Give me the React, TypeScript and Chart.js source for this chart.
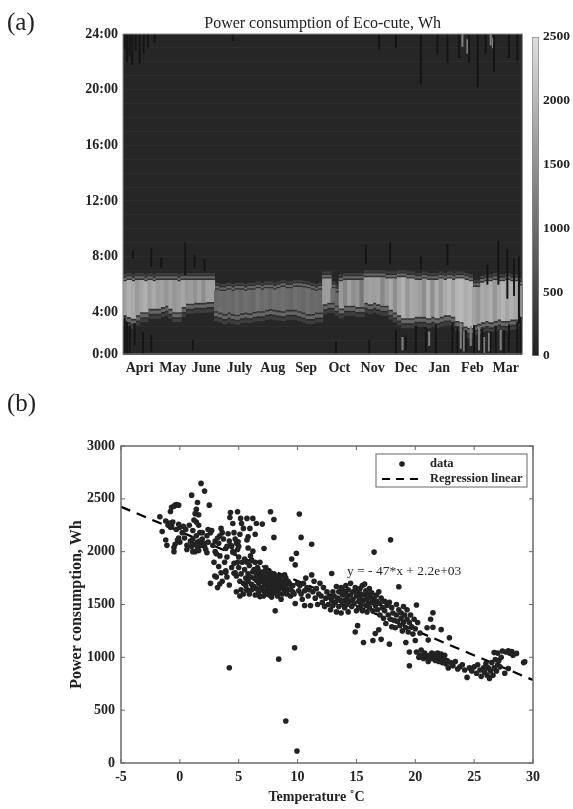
import React, { useEffect, useRef } from "react";
import { Chart, registerables } from "chart.js";

Chart.register(...registerables);

const SERIF = '"Liberation Serif", "Times New Roman", serif';

// Panel (a)
const months = ["Apri", "May", "June", "July", "Aug", "Sep", "Oct", "Nov", "Dec", "Jan", "Feb", "Mar"];
const monthCentres = [0.5, 1.5, 2.5, 3.5, 4.5, 5.5, 6.5, 7.5, 8.5, 9.5, 10.5, 11.5];
const hourTicks = [1, 4, 8, 12, 16, 20, 24];
const hourLabels = ["0:00", "4:00", "8:00", "12:00", "16:00", "20:00", "24:00"];
const colourTicks = [0, 500, 1000, 1500, 2000, 2500];

const bandHigh = [
  6.2, 6.3, 6.2, 6.3, 6.3, 6.2, 6.3, 6.2,
  6.3, 6.3, 6.3, 6.3, 6.3, 6.2, 6.3, 6.3,
  6.3, 6.3, 6.3, 6.3, 6.3, 6.3, 5.6, 5.5,
  5.5, 5.6, 5.5, 5.6, 5.6, 5.5, 5.6, 5.6,
  5.7, 5.6, 5.7, 5.7, 5.6, 5.7, 5.8, 5.7,
  5.7, 5.8, 5.8, 5.75, 5.7, 5.6, 5.5, 5.6,
  6.4, 6.4, 5.7, 5.4, 6.2, 6.3, 6.3, 6.3,
  6.3, 6.3, 6.5, 6.5, 6.5, 6.5, 6.5, 6.4,
  6.4, 6.4, 6.5, 6.5, 6.4, 6.4, 6.3, 6.3,
  6.4, 6.3, 6.3, 6.3, 6.4, 6.3, 6.4, 6.3,
  6.4, 6.4, 6.3, 6.2, 5.8, 5.8, 6.1, 6.2,
  6.2, 6.3, 6.2, 6.2, 6.3, 6.2, 6.2, 5.9,
];
const bandLow = [
  3.8, 3.68, 3.56, 3.8, 4.03, 4.03, 4.27, 4.27,
  4.27, 4.4, 4.5, 4.27, 4.03, 4.03, 4.4, 4.64,
  4.64, 4.7, 4.7, 4.7, 4.76, 4.76, 4.1, 4.0,
  3.9, 4.0, 3.9, 3.85, 3.95, 4.0, 3.95, 4.05,
  4.1, 4.1, 4.2, 4.25, 4.2, 4.15, 4.1, 4.2,
  4.2, 4.2, 4.1, 4.0, 3.9, 3.9, 4.0, 4.0,
  4.6, 4.7, 4.7, 4.5, 4.3, 4.5, 4.5, 4.5,
  4.4, 4.4, 4.7, 4.6, 4.7, 4.6, 4.5, 4.5,
  4.2, 4.0, 3.8, 3.6, 3.6, 3.6, 3.7, 3.7,
  3.7, 3.6, 3.7, 3.6, 3.7, 3.8, 3.8, 3.7,
  3.4, 3.3, 3.0, 2.9, 3.1, 3.2, 3.3, 3.4,
  3.3, 3.4, 3.5, 3.4, 3.4, 3.5, 3.5, 3.7,
];
const bandLevel = [
  1700, 1900, 1800, 1600, 1750, 1900, 1650, 1800,
  1650, 1700, 1550, 1700, 1550, 1650, 1750, 1600,
  1650, 1500, 1700, 1450, 1700, 1700, 950, 1000,
  950, 1000, 950, 1050, 950, 1050, 1000, 950,
  1100, 1000, 1050, 950, 1050, 1000, 1050, 1000,
  950, 1050, 1000, 950, 1050, 950, 1000, 950,
  1600, 1650, 1050, 950, 1600, 1350, 1700, 1450,
  1550, 1150, 1650, 1700, 1650, 1700, 1350, 1600,
  1800, 1450, 1750, 1900, 1550, 1800, 1750, 1650,
  1450, 1900, 1450, 1850, 1550, 1800, 1950, 1750,
  1950, 2000, 1850, 1950, 1700, 1550, 1800, 1750,
  1850, 1550, 1800, 1950, 1750, 1900, 1750, 1450,
];

const darkStreakMonth = [
  0.05, 0.12, 0.2, 0.28, 0.38, 0.5, 0.62, 0.75, 0.95, 3.3, 7.7, 8.2, 8.95, 9.45, 9.75, 10.1, 10.4, 10.66, 10.9, 11.15, 11.6, 11.85,
  0.3, 0.85, 1.15, 1.87, 2.15, 2.45, 7.3, 8.03, 8.95, 9.75, 11.28, 11.55, 11.9, 11.75, 10.95,
  0.05, 0.12, 0.2, 0.35, 0.6, 0.85, 2.1, 6.4, 7.4, 8.2, 8.5, 8.8, 9.1, 9.4, 9.9, 10.05, 10.3, 10.55, 10.8, 11.05, 11.2, 11.45, 11.6, 11.85, 11.95,
];
const darkStreakLow = [
  22.9, 22.0, 22.4, 21.8, 22.8, 21.9, 22.6, 23.0, 23.4, 23.5, 22.9, 23.0, 20.4, 22.6, 22.0, 22.3, 22.0, 20.2, 22.6, 21.3, 22.3, 22.1,
  7.9, 7.3, 7.2, 6.7, 7.2, 7.0, 7.5, 7.5, 7.1, 7.4, 6.0, 5.0, 3.2, 5.2, 6.0,
  1, 1, 1, 1.6, 1, 1.2, 1.3, 1, 1, 1, 1.3, 1, 1.2, 1, 1, 1, 1.2, 1, 1, 1.1, 1, 1, 1.2, 1, 1,
];
const darkStreakHigh = [
  24, 24, 24, 24, 24, 24, 24, 24, 24, 24, 24, 24, 24, 24, 24, 24, 24, 24, 24, 24, 24, 24,
  8.4, 8.6, 7.9, 9.0, 8.1, 7.8, 8.8, 9.0, 8.0, 8.9, 9.1, 8.5, 8.0, 7.8, 7.4,
  3.6, 3.3, 3.0, 3.2, 2.6, 2.4, 2.0, 1.9, 2.0, 2.7, 2.3, 3.0, 2.9, 3.1, 3.2, 2.9, 2.7, 3.0, 2.8, 2.6, 3.0, 2.7, 3.1, 3.3, 3.6,
];

const paleStreakMonth = [10.15, 10.25, 10.45, 10.7, 10.85, 11.0, 11.35, 9.2, 8.4, 10.2, 10.35, 11.05, 11.12];
const paleStreakLow = [1.4, 1.2, 1.6, 1.3, 1.1, 1.2, 1.3, 1.6, 1.3, 23.1, 22.6, 23.2, 23.0];
const paleStreakHigh = [3.2, 2.6, 3.0, 2.9, 2.2, 2.5, 2.7, 2.6, 2.2, 24, 23.6, 24, 23.7];

// Panel (b)
const coldDays = [
  [-1.7, 2330], [-1.5, 2190], [-1.2, 2290], [-1.2, 2110], [-1.1, 2060], [-1.0, 2250], [-0.9, 2270], [-0.8, 2230], [-0.7, 2240], [-0.6, 2280],
  [-0.5, 2430], [-0.8, 2380], [-0.7, 2420], [-0.4, 2440], [-0.3, 2445], [-0.1, 2440], [-0.5, 2040], [-0.5, 2000], [-0.4, 2070], [-0.2, 2110],
  [-0.1, 2130], [0, 2090], [-0.1, 2260], [0, 2230], [-0.3, 2210], [0.2, 2180], [0.3, 2240], [0.5, 2210], [0.6, 2060], [0.6, 2020],
  [1.0, 2535], [1.1, 2200], [1.2, 2300], [1.3, 2360], [1.4, 2400], [1.5, 2465], [1.6, 2250], [1.7, 2180], [1.8, 2646], [1.9, 2180],
  [0.9, 2100], [1.0, 2050], [1.1, 2120], [1.2, 2070], [1.3, 2000], [1.4, 2150], [1.5, 2090], [1.5, 2040], [1.6, 2010], [1.7, 2100],
  [1.8, 2060], [1.9, 2120], [2.0, 2080], [2.1, 2573], [2.1, 2050], [2.2, 2020], [2.3, 1990], [2.4, 2090], [2.5, 2440], [2.3, 2150],
  [2.6, 2180], [1.1, 2000], [1.4, 2280], [1.6, 2350],
];
const coolDays = [
  [2.7, 2200], [2.8, 2060], [3.0, 2000], [3.1, 1980], [3.2, 2130], [3.3, 2080], [3.4, 1960], [3.5, 2220], [3.6, 2180], [3.7, 2120],
  [3.3, 1860], [3.5, 1800], [3.8, 1900], [3.9, 2030], [4.0, 1950], [4.1, 2170], [4.2, 2100], [4.3, 2060], [4.4, 2050], [4.5, 2000],
  [4.6, 1990], [4.7, 2120], [4.8, 2080], [4.9, 2020], [3.9, 1820], [4.0, 1760], [4.2, 902], [4.4, 1850], [4.6, 1890], [4.7, 1800],
  [4.8, 1770], [4.9, 1900], [5.0, 1950], [2.9, 1900], [3.6, 1720], [3.2, 1660], [3.1, 1760], [2.6, 1700], [2.97, 1770], [3.4, 1694],
  [3.9, 1806], [4.2, 1685], [4.6, 1795], [4.8, 1620], [5.1, 1580], [5.7, 1637], [4.3, 2371], [4.9, 2378], [4.25, 2324], [4.5, 2267],
  [5.16, 2315], [5.24, 2267], [5.7, 2315], [6.2, 2315], [6.5, 2267], [7.0, 2261], [5.4, 2220], [5.95, 2220], [5.8, 2140], [6.4, 2165],
  [5.1, 2165], [4.95, 2094], [5.7, 2110], [5.8, 2035], [7.15, 2030], [7.7, 2378], [7.99, 2305], [7.99, 2135],
];
const mildDays = [
  [5.0, 1850], [5.1, 1720], [5.2, 1790], [5.2, 1640], [5.3, 1900], [5.4, 1700], [5.4, 1600], [5.5, 1830], [5.6, 1750], [5.6, 1680],
  [5.7, 1640], [5.8, 1790], [5.8, 1720], [5.9, 1870], [5.9, 1600], [6.0, 1960], [6.0, 1760], [6.1, 1690], [6.1, 1640], [6.2, 2005],
  [6.2, 1810], [6.3, 1750], [6.3, 1670], [6.4, 1900], [6.4, 1590], [6.5, 1730], [6.5, 1650], [6.6, 1850], [6.6, 1780], [6.7, 1700],
  [6.7, 1610], [6.8, 1575], [6.8, 1740], [6.9, 1660], [6.9, 1800], [7.0, 1720], [7.0, 1640], [7.1, 1580], [7.1, 1770], [7.2, 1690],
  [7.2, 1620], [7.3, 1850], [7.3, 1730], [7.4, 1660], [7.4, 1600], [7.5, 1700], [7.5, 1640], [7.6, 1750], [7.6, 1590], [7.7, 1680],
  [7.7, 1620], [7.8, 1720], [7.8, 1570], [7.9, 1660], [8.0, 1610], [8.0, 1700], [8.1, 1640], [8.1, 1440], [8.2, 1680], [8.3, 1580],
  [8.3, 1610], [8.4, 1720], [8.4, 1640], [8.5, 1670], [8.4, 983], [8.6, 1550], [8.7, 1600], [8.7, 1700], [8.8, 1650], [8.9, 1620],
  [8.9, 1780], [9.0, 397], [9.0, 1680], [9.1, 1600], [9.2, 1640], [9.3, 1700], [9.4, 1580], [9.4, 1650], [9.5, 1930], [9.6, 1620],
  [9.6, 1680], [9.7, 1600], [9.75, 1090], [9.8, 1875], [9.8, 1510], [9.9, 1985], [9.95, 113],
];
const mildUpperDays = [
  [6.3, 1830], [6.5, 1790], [6.7, 1820], [6.9, 1770], [7.1, 1810], [7.2, 1760], [7.4, 1820], [7.5, 1780], [7.7, 1800], [7.8, 1760],
  [8.0, 1790], [8.1, 1740], [8.3, 1770], [8.5, 1730], [8.6, 1770], [8.8, 1720], [9.0, 1750], [9.2, 1720], [5.5, 1930], [5.7, 1900],
  [6.1, 1920], [6.8, 1900], [3.0, 2100], [3.4, 2150], [2.4, 2210], [0.8, 2250], [0.4, 2130], [4.0, 2050], [4.6, 2180], [5.0, 2050],
];
const springDays = [
  [10.0, 1700], [10.15, 2357], [10.3, 2135], [10.1, 1630], [10.2, 1680], [10.3, 1600], [10.4, 1550], [10.5, 1700], [10.6, 1490], [10.6, 1630],
  [10.7, 1750], [10.8, 1660], [10.9, 1580], [11.0, 1640], [11.1, 1490], [11.2, 2070], [11.2, 1780], [11.3, 1620], [11.4, 1720], [11.5, 1560],
  [11.6, 1650], [11.7, 1500], [11.8, 1600], [11.9, 1700], [12.0, 1580], [12.1, 1520], [12.2, 1660], [12.3, 1480], [12.4, 1560], [12.5, 1620],
  [12.6, 1500], [12.7, 1570], [12.8, 1450], [12.9, 1794], [12.9, 1540], [13.0, 1620], [13.0, 1490], [13.1, 1580], [13.2, 1520], [13.3, 1430],
  [13.3, 1670], [13.4, 1560], [13.5, 1480], [13.5, 1620], [13.6, 1540], [13.7, 1660], [13.7, 1420], [13.8, 1500], [13.8, 1590], [13.9, 1630],
  [14.0, 1540], [14.0, 1470], [14.1, 1600], [14.1, 1680], [14.2, 1560], [14.2, 1500], [14.3, 1640], [14.3, 1430], [14.4, 1530], [14.5, 1700],
  [14.5, 1590], [14.6, 1480], [14.7, 1620], [14.7, 1550], [14.8, 1510], [14.9, 1660], [14.9, 1240], [15.0, 1580], [15.0, 1440], [15.1, 1300],
  [15.1, 1620], [15.2, 1530], [15.2, 1470],
];
const warmDays = [
  [15.3, 1650], [15.3, 1560], [15.4, 1600], [15.4, 1500], [15.5, 1680], [15.5, 1440], [15.6, 1140], [15.6, 1540], [15.7, 1693], [15.7, 1590],
  [15.8, 1490], [15.8, 1630], [15.9, 1550], [15.9, 1430], [16.0, 1600], [16.0, 1510], [16.1, 1650], [16.1, 1470], [16.2, 1570], [16.3, 1520],
  [16.3, 1610], [16.4, 1160], [16.4, 1440], [16.5, 1996], [16.5, 1560], [16.6, 1225], [16.6, 1490], [16.7, 1590], [16.7, 1530], [16.8, 1450],
  [16.9, 1620], [16.9, 1260], [17.0, 1510], [17.0, 1400], [17.1, 1170], [17.1, 1560], [17.2, 1470], [17.3, 1370], [17.4, 1530], [17.4, 1440],
  [17.5, 1320], [17.6, 1490], [17.7, 1400], [17.8, 1125], [17.8, 1520], [17.9, 2112], [17.9, 1360], [18.0, 1470], [18.0, 1290], [18.1, 1420],
  [18.2, 1350], [18.3, 1280], [18.4, 1500], [18.4, 1400], [18.5, 1340], [18.6, 1668], [18.6, 1450], [18.7, 1300], [18.8, 1420], [18.8, 1370],
  [18.9, 1250], [19.0, 1480], [19.0, 1330], [19.1, 1400], [19.2, 1140], [19.2, 1280], [19.3, 1450], [19.3, 1360], [19.4, 1240], [19.5, 920],
  [19.5, 1050], [19.5, 1330], [19.6, 1400], [19.7, 1290], [19.8, 1220], [19.9, 1360], [20.0, 1160], [20.0, 1270], [20.1, 1495], [20.1, 1050],
  [20.2, 1330], [20.3, 1000], [20.4, 1230],
];
const hotDays = [
  [20.4, 1020], [20.5, 1070], [20.6, 1000], [20.7, 990], [20.8, 1040], [20.9, 1010], [21.0, 1000], [21.0, 1280], [21.1, 1163], [21.1, 960],
  [21.2, 1020], [21.3, 1360], [21.3, 990], [21.4, 1040], [21.5, 1422], [21.5, 1285], [21.5, 990], [21.6, 1030], [21.7, 970], [21.8, 1010],
  [21.9, 1040], [22.0, 960], [22.1, 1000], [22.2, 1262], [22.2, 1030], [22.3, 950], [22.4, 990], [22.5, 1020], [22.6, 940], [22.7, 970],
  [22.9, 1185], [22.8, 900], [23.0, 950], [23.2, 920], [23.4, 960], [23.6, 890], [23.8, 910], [24.0, 930], [24.2, 880], [24.4, 810],
  [24.6, 900], [24.8, 870], [25.0, 910], [25.2, 850], [25.3, 930], [25.5, 880], [25.6, 820], [25.8, 900], [25.9, 860], [26.0, 940],
  [26.1, 830], [26.2, 900], [26.3, 800], [26.4, 870], [26.5, 950], [26.6, 830], [26.7, 1045], [26.7, 900], [26.8, 980], [26.9, 870],
  [27.0, 1040], [27.0, 930], [27.1, 970], [27.2, 910], [27.3, 1000], [27.4, 1060], [27.6, 850], [27.9, 895], [27.9, 1063], [28.2, 1055],
  [28.3, 1020], [28.6, 1037], [28.0, 1040], [27.7, 1050], [29.3, 958], [29.2, 950],
];
const regressionTemps = [-5, 30];
const regressionPower = [2425, 785];
const regressionNote = "y = - 47*x + 2.2e+03";

const grey = (wh: number) => {
  const g = Math.round(32 + wh * 0.076);
  return `rgb(${g},${g},${g})`;
};
const colX = (i: number) => (i + 0.5) / 8;

const bandLayer = (label: string, down: number, up: number, color: any) => ({
  label,
  data: bandHigh.map((hi, i) => ({ x: colX(i), y: [bandLow[i] - down, hi + up] })),
  backgroundColor: color,
  barThickness: 4.6,
  grouped: false,
});
const streakLayer = (label: string, xs: number[], lows: number[], highs: number[], color: string, w: number) => ({
  label,
  data: xs.map((x, i) => ({ x, y: [lows[i], highs[i]] })),
  backgroundColor: color,
  barThickness: w,
  grouped: false,
});

const plotFill = {
  id: "plotFill",
  beforeDatasetsDraw(chart: any) {
    const { ctx, chartArea: a } = chart;
    ctx.save();
    ctx.fillStyle = "#262626";
    ctx.globalCompositeOperation = "destination-over";
    ctx.fillRect(a.left, a.top, a.width, a.height);
    ctx.restore();
  },
  afterDraw(chart: any) {
    const { ctx, chartArea: a } = chart;
    ctx.save();
    ctx.strokeStyle = "#8a8a8a";
    ctx.lineWidth = 1;
    ctx.strokeRect(a.left, a.top, a.width, a.height);
    ctx.restore();
  },
};

const frame = {
  id: "frame",
  afterDatasetsDraw(chart: any) {
    const { ctx, chartArea: a, scales } = chart;
    ctx.save();
    ctx.strokeStyle = "#6a6a6a";
    ctx.lineWidth = 1.5;
    ctx.strokeRect(a.left, a.top, a.width, a.height);
    ctx.lineWidth = 1;
    ctx.beginPath();
    scales.x.ticks.forEach((t: any) => {
      const px = scales.x.getPixelForValue(t.value);
      ctx.moveTo(px, a.bottom);
      ctx.lineTo(px, a.bottom - 4);
      ctx.moveTo(px, a.top);
      ctx.lineTo(px, a.top + 4);
    });
    scales.y.ticks.forEach((t: any) => {
      const py = scales.y.getPixelForValue(t.value);
      ctx.moveTo(a.left, py);
      ctx.lineTo(a.left + 4, py);
      ctx.moveTo(a.right, py);
      ctx.lineTo(a.right - 4, py);
    });
    ctx.stroke();
    ctx.restore();
  },
  afterDraw(chart: any) {
    const { ctx, chartArea: a, scales } = chart;
    ctx.save();
    ctx.fillStyle = "#2a2a2a";
    ctx.font = `13.5px ${SERIF}`;
    ctx.textBaseline = "middle";
    ctx.textAlign = "left";
    ctx.fillText(regressionNote, scales.x.getPixelForValue(14.2), scales.y.getPixelForValue(1810));
    const lx = a.right - 157;
    const ly = a.top + 8;
    const lw = 151;
    const lh = 33;
    ctx.fillStyle = "#fff";
    ctx.fillRect(lx, ly, lw, lh);
    ctx.strokeStyle = "#666";
    ctx.lineWidth = 1;
    ctx.strokeRect(lx, ly, lw, lh);
    ctx.fillStyle = "#222";
    ctx.beginPath();
    ctx.arc(lx + 26, ly + 10, 2.8, 0, Math.PI * 2);
    ctx.fill();
    ctx.strokeStyle = "#000";
    ctx.lineWidth = 2.2;
    ctx.setLineDash([8, 6]);
    ctx.beginPath();
    ctx.moveTo(lx + 6, ly + 25);
    ctx.lineTo(lx + 46, ly + 25);
    ctx.stroke();
    ctx.setLineDash([]);
    ctx.fillStyle = "#222";
    ctx.font = `bold 12.5px ${SERIF}`;
    ctx.fillText("data", lx + 54, ly + 10);
    ctx.fillText("Regression linear", lx + 54, ly + 25);
    ctx.restore();
  },
};

export default function App() {
  const heatRef = useRef<HTMLCanvasElement>(null);
  const barRef = useRef<HTMLCanvasElement>(null);
  const scatterRef = useRef<HTMLCanvasElement>(null);

  useEffect(() => {
    const heat = new Chart(heatRef.current as any, {
      type: "bar",
      data: {
        datasets: [
          streakLayer("dark streaks", darkStreakMonth, darkStreakLow, darkStreakHigh, "#151515", 1.3),
          streakLayer("pale streaks", paleStreakMonth, paleStreakLow, paleStreakHigh, "#7e7e7e", 1.4),
          bandLayer("band", 0, 0, (c: any) => grey(bandLevel[c.dataIndex] ?? 0)),
          bandLayer("contour 1", 0.12, 0.1, "#333333"),
          bandLayer("shoulder", 0.36, 0.26, "#666666"),
          bandLayer("contour 2", 0.48, 0.34, "#2c2c2c"),
          bandLayer("halo", 0.72, 0.5, "#3e3e3e"),
        ] as any,
      },
      options: {
        animation: false,
        responsive: false,
        events: [],
        layout: { padding: { left: 73, right: 2, top: 0, bottom: 0 } },
        plugins: {
          legend: { display: false },
          tooltip: { enabled: false },
          title: {
            display: true,
            text: "Power consumption of Eco-cute, Wh",
            fullSize: false,
            color: "#222",
            font: { family: SERIF, size: 16, weight: "normal", lineHeight: 1.2 },
            padding: { top: 14.4, bottom: 0.4 },
          },
        },
        scales: {
          x: {
            type: "linear",
            min: 0,
            max: 12,
            offset: false,
            grid: { display: false, drawTicks: false },
            border: { display: false },
            afterBuildTicks: (s: any) => {
              s.ticks = monthCentres.map((value) => ({ value }));
            },
            afterFit: (s: any) => {
              s.height = 31;
            },
            ticks: {
              autoSkip: false,
              maxRotation: 0,
              padding: 6,
              color: "#222",
              font: { family: SERIF, size: 14, weight: "bold" },
              callback: (_v: any, i: number) => months[i],
            },
          },
          y: {
            type: "linear",
            min: 1,
            max: 24,
            grid: { display: false, drawTicks: false },
            border: { display: false },
            afterBuildTicks: (s: any) => {
              s.ticks = hourTicks.map((value) => ({ value }));
            },
            afterFit: (s: any) => {
              s.width = 50;
            },
            ticks: {
              autoSkip: false,
              padding: 5,
              color: "#222",
              font: { family: SERIF, size: 14, weight: "bold" },
              callback: (_v: any, i: number) => hourLabels[i],
            },
          },
          hours: {
            type: "linear",
            position: "left",
            min: 1,
            max: 24,
            border: { display: false },
            grid: { color: "#2d2d2d", lineWidth: 1, drawTicks: false },
            ticks: { stepSize: 1, display: false },
            afterFit: (s: any) => {
              s.width = 0;
            },
          },
        },
      } as any,
      plugins: [plotFill],
    });

    const bar = new Chart(barRef.current as any, {
      type: "bar",
      data: {
        labels: ["Wh"],
        datasets: [
          {
            data: [[0, 2500]],
            barPercentage: 1,
            categoryPercentage: 1,
            borderColor: "#8a8a8a",
            borderWidth: 1,
            borderSkipped: false,
            backgroundColor: (c: any) => {
              const a = c.chart.chartArea;
              if (!a) return "#888";
              const g = c.chart.ctx.createLinearGradient(0, a.bottom, 0, a.top);
              g.addColorStop(0, grey(0));
              g.addColorStop(1, grey(2500));
              return g;
            },
          },
        ] as any,
      },
      options: {
        animation: false,
        responsive: false,
        events: [],
        layout: { padding: { left: 7, right: 0, top: 37, bottom: 29 } },
        plugins: { legend: { display: false }, tooltip: { enabled: false } },
        scales: {
          x: { display: false },
          y: {
            position: "right",
            min: 0,
            max: 2500,
            grid: { display: false, drawTicks: false },
            border: { display: false },
            afterBuildTicks: (s: any) => {
              s.ticks = colourTicks.map((value) => ({ value }));
            },
            afterFit: (s: any) => {
              s.width = 34;
            },
            ticks: {
              padding: 4,
              color: "#222",
              font: { family: SERIF, size: 13.5, weight: "bold" },
              callback: (v: any) => String(v),
            },
          },
        },
      } as any,
    });

    const allDays = [...coldDays, ...coolDays, ...mildDays, ...mildUpperDays, ...springDays, ...warmDays, ...hotDays];
    const scatter = new Chart(scatterRef.current as any, {
      type: "scatter",
      data: {
        datasets: [
          {
            label: "data",
            data: allDays.map(([x, y]) => ({ x, y })),
            pointRadius: 2.8,
            pointBackgroundColor: "#222",
            pointBorderWidth: 0,
            showLine: false,
          },
          {
            label: "Regression linear",
            data: regressionTemps.map((x, i) => ({ x, y: regressionPower[i] })),
            showLine: true,
            pointRadius: 0,
            borderColor: "#000",
            borderWidth: 2.2,
            borderDash: [10, 7],
          },
        ] as any,
      },
      options: {
        animation: false,
        responsive: false,
        events: [],
        layout: { padding: { left: 60, right: 40, top: 61, bottom: 3 } },
        plugins: { legend: { display: false }, tooltip: { enabled: false } },
        scales: {
          x: {
            type: "linear",
            min: -5,
            max: 30,
            grid: { display: false, drawTicks: false },
            border: { display: false },
            ticks: {
              stepSize: 5,
              padding: 6,
              maxRotation: 0,
              color: "#222",
              font: { family: SERIF, size: 14, weight: "bold" },
              callback: (v: any) => String(v),
            },
            afterFit: (s: any) => {
              s.height = 43;
            },
            title: {
              display: true,
              text: "Temperature ˚C\u00a0\u00a0\u00a0\u00a0\u00a0\u00a0",
              color: "#222",
              font: { family: SERIF, size: 14, weight: "bold", lineHeight: 1.2 },
              padding: 0,
            },
          },
          y: {
            type: "linear",
            min: 0,
            max: 3000,
            grid: { display: false, drawTicks: false },
            border: { display: false },
            ticks: {
              stepSize: 500,
              padding: 6,
              color: "#222",
              font: { family: SERIF, size: 14, weight: "bold" },
              callback: (v: any) => String(v),
            },
            afterFit: (s: any) => {
              s.width = 61;
            },
            title: {
              display: true,
              text: "Power consumption, Wh",
              color: "#222",
              font: { family: SERIF, size: 16, weight: "bold", lineHeight: 1.2 },
              padding: { top: 7, bottom: 0 },
            },
          },
        },
      } as any,
      plugins: [frame],
    });

    return () => {
      heat.destroy();
      bar.destroy();
      scatter.destroy();
    };
  }, []);

  const panelLabel: React.CSSProperties = {
    position: "absolute",
    left: 7,
    fontFamily: SERIF,
    fontSize: 25,
    lineHeight: "28px",
    color: "#222",
  };

  return (
    <div
      style={{
        position: "absolute",
        left: 0,
        top: 0,
        width: 573,
        height: 809,
        background: "#fff",
        overflow: "hidden",
        filter: "blur(0.5px)",
      }}
    >
      <canvas ref={heatRef} width={525} height={385} style={{ position: "absolute", left: 0, top: 0 }} />
      <canvas ref={barRef} width={48} height={385} style={{ position: "absolute", left: 525, top: 0 }} />
      <canvas ref={scatterRef} width={573} height={424} style={{ position: "absolute", left: 0, top: 385 }} />
      <div style={{ ...panelLabel, top: 8 }}>(a)</div>
      <div style={{ ...panelLabel, top: 389 }}>(b)</div>
    </div>
  );
}
